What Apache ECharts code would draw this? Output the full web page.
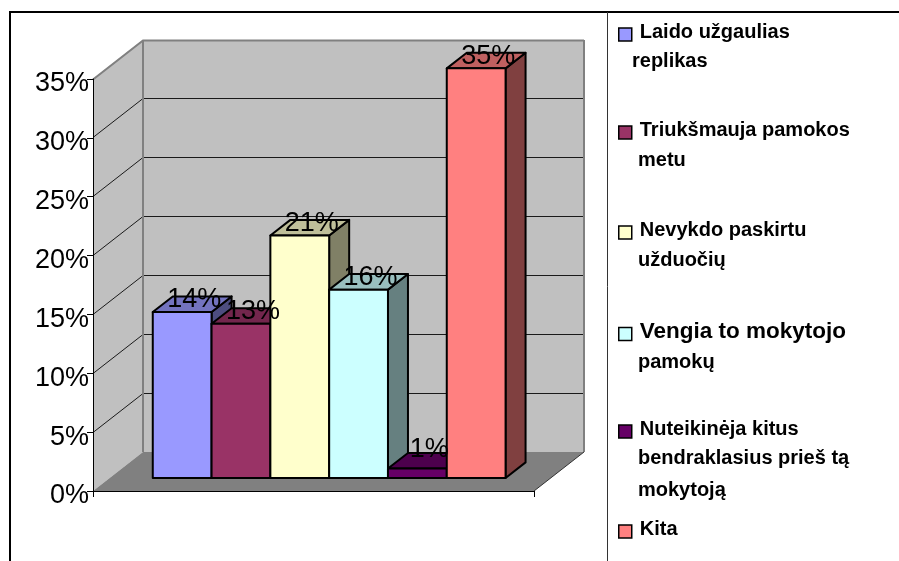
<!DOCTYPE html>
<html>
<head>
<meta charset="utf-8">
<style>
  html, body { margin: 0; padding: 0; background: #fff; }
  #chart { width: 899px; height: 561px; }
</style>
<script src="https://cdn.jsdelivr.net/npm/echarts@6/dist/echarts.min.js"></script>
</head>
<body>
<div id="chart"></div>
<script>
  var FONT = '"Liberation Sans", Arial, sans-serif';

  var categories = [''];
  var yTicks = [0, 5, 10, 15, 20, 25, 30, 35];
  var seriesNames = [
    'Laido užgaulias replikas',
    'Triukšmauja pamokos metu',
    'Nevykdo paskirtu užduočių',
    'Vengia to mokytojo pamokų',
    'Nuteikinėja kitus bendraklasius prieš tą mokytoją',
    'Kita'
  ];
  // heights, the printed labels are rounded
  var seriesValues = [14.1, 13.1, 20.6, 16, 0.8, 34.8];
  var dataLabels = ['14%', '13%', '21%', '16%', '1%', '35%'];
  var seriesColors = ['#9999FF', '#993366', '#FFFFCC', '#CCFFFF', '#660066', '#FF8080'];
  var legendLines = [
    ['Laido užgaulias', 'replikas'],
    ['Triukšmauja pamokos', 'metu'],
    ['Nevykdo paskirtu', 'užduočių'],
    ['Vengia to mokytojo', 'pamokų'],
    ['Nuteikinėja kitus', 'bendraklasius prieš tą', 'mokytoją'],
    ['Kita']
  ];

  // layout of the hand placed legend (symbol top, and y of the wrapped lines)
  var legendTops = [22, 120, 220, 320, 419, 519];
  var legendWrapY = [[61], [160], [260], [362], [458, 490], []];
  var legendWrapX = [632, 638, 638, 638, 638, 638];

  // depth of the 3d box, in pixels
  var DEPTH_X = 50;
  var DEPTH_Y = -39;

  // same hue, darker, for the top and side faces
  function shade(hex, k) {
    var c = echarts.color.parse(hex);
    return 'rgb(' + Math.round(c[0] * k) + ',' + Math.round(c[1] * k) + ',' + Math.round(c[2] * k) + ')';
  }

  function renderWalls(params, api) {
    var cs = params.coordSys;
    var top = api.coord([0, yTicks[yTicks.length - 1]])[1];
    var bottom = api.coord([0, 0])[1];
    var left = cs.x;
    var right = cs.x + cs.width;
    var children = [
      // side wall
      { type: 'polygon', shape: { points: [[left, bottom], [left, top], [left + DEPTH_X, top + DEPTH_Y], [left + DEPTH_X, bottom + DEPTH_Y]] },
        style: { fill: '#C0C0C0', stroke: null } },
      // back wall
      { type: 'rect', shape: { x: left + DEPTH_X, y: top + DEPTH_Y, width: right - left, height: bottom - top },
        style: { fill: '#C0C0C0', stroke: null } },
      // floor
      { type: 'polygon', shape: { points: [[left, bottom], [right, bottom], [right + DEPTH_X, bottom + DEPTH_Y], [left + DEPTH_X, bottom + DEPTH_Y]] },
        style: { fill: '#808080', stroke: null } }
    ];
    yTicks.forEach(function (t) {
      if (t === 0) return;
      var y = Math.floor(api.coord([0, t])[1]) + 0.5;
      var last = t === yTicks[yTicks.length - 1];
      children.push({ type: 'polyline', shape: { points: [[left, y], [left + DEPTH_X, y + DEPTH_Y], [right + DEPTH_X, y + DEPTH_Y]] },
        style: { fill: null, stroke: last ? '#808080' : '#1a1a1a', lineWidth: last ? 2 : 1 } });
    });
    children.push({ type: 'polyline', shape: { points: [[left + DEPTH_X, top + DEPTH_Y], [left + DEPTH_X, bottom + DEPTH_Y]] },
      style: { fill: null, stroke: '#808080', lineWidth: 2 } });
    children.push({ type: 'polyline', shape: { points: [[right + DEPTH_X, top + DEPTH_Y], [right + DEPTH_X, bottom + DEPTH_Y]] },
      style: { fill: null, stroke: '#808080', lineWidth: 2 } });
    children.push({ type: 'polyline', shape: { points: [[right, bottom], [right + DEPTH_X, bottom + DEPTH_Y]] },
      style: { fill: null, stroke: '#333', lineWidth: 1 } });
    return { type: 'group', children: children };
  }

  // front-left corner of bar number idx, the bar stands one third into the box
  function barGeom(params, api, idx, value) {
    var cs = params.coordSys;
    var barW = cs.width / (seriesValues.length + 1.5);
    var x = cs.x + barW * 0.75 + barW * idx + DEPTH_X / 3 - 1;
    var y0 = api.coord([0, 0])[1] + DEPTH_Y / 3;
    var y1 = api.coord([0, value])[1] + DEPTH_Y / 3;
    return { x: x, y0: y0, y1: y1, w: barW };
  }

  function renderBar(idx) {
    return function (params, api) {
      var g = barGeom(params, api, idx, api.value(1));
      var color = seriesColors[idx];
      var dx = DEPTH_X * 0.4;
      var dy = DEPTH_Y * 0.4;
      var line = { stroke: '#000', lineWidth: 2, lineJoin: 'round' };
      return { type: 'group', children: [
        { type: 'polygon', shape: { points: [[g.x + g.w, g.y0], [g.x + g.w, g.y1], [g.x + g.w + dx, g.y1 + dy], [g.x + g.w + dx, g.y0 + dy]] },
          style: Object.assign({ fill: shade(color, 0.5) }, line) },
        { type: 'polygon', shape: { points: [[g.x, g.y1], [g.x + g.w, g.y1], [g.x + g.w + dx, g.y1 + dy], [g.x + dx, g.y1 + dy]] },
          style: Object.assign({ fill: shade(color, 0.75) }, line) },
        { type: 'rect', shape: { x: g.x, y: g.y1, width: g.w, height: g.y0 - g.y1 },
          style: Object.assign({ fill: color }, line) }
      ] };
    };
  }

  function renderLabel(params, api) {
    var idx = params.dataIndex;
    var g = barGeom(params, api, idx, api.value(1));
    return { type: 'text', style: {
      text: dataLabels[idx],
      x: g.x + g.w / 2 + 12,
      y: Math.min(g.y1 - 12, g.y0 - 28),
      align: 'center',
      verticalAlign: 'middle',
      fill: '#000',
      font: '27px ' + FONT
    } };
  }

  var series = [{
    name: 'walls',
    type: 'custom',
    z: 1,
    silent: true,
    renderItem: renderWalls,
    data: [[0, 0]],
    encode: { x: 0, y: 1 }
  }];
  seriesValues.forEach(function (v, i) {
    series.push({
      name: seriesNames[i],
      type: 'custom',
      z: 3 + i * 0.01,
      itemStyle: { color: seriesColors[i] },
      renderItem: renderBar(i),
      data: [[0, v]],
      encode: { x: 0, y: 1 }
    });
  });
  series.push({
    name: 'labels',
    type: 'custom',
    z: 5,
    silent: true,
    renderItem: renderLabel,
    data: seriesValues.map(function (v) { return [0, v]; }),
    encode: { x: 0, y: 1 }
  });

  var legends = seriesNames.map(function (name, i) {
    return {
      data: [name],
      orient: 'vertical',
      left: 618,
      top: legendTops[i],
      padding: 0,
      icon: 'rect',
      itemWidth: 13,
      itemHeight: 13,
      itemStyle: { borderColor: '#000', borderWidth: 1.5 },
      selectedMode: false,
      formatter: function () { return '{a|' + legendLines[i][0] + '}'; },
      textStyle: {
        rich: {
          a: {
            fontFamily: FONT,
            fontWeight: 'bold',
            fontSize: i === 3 ? 22.5 : 20,
            color: '#000',
            padding: [0, 0, 5, 3]
          }
        }
      }
    };
  });

  var graphics = [
    { type: 'line', shape: { x1: 9, y1: 12, x2: 899, y2: 12 }, style: { stroke: '#000', lineWidth: 2 } },
    { type: 'line', shape: { x1: 10, y1: 11, x2: 10, y2: 561 }, style: { stroke: '#000', lineWidth: 2 } },
    { type: 'line', shape: { x1: 607.5, y1: 12, x2: 607.5, y2: 561 }, style: { stroke: '#333', lineWidth: 1 } }
  ];
  legendLines.forEach(function (lines, i) {
    lines.slice(1).forEach(function (text, j) {
      graphics.push({
        type: 'text',
        x: legendWrapX[i],
        y: legendWrapY[i][j],
        style: { text: text, fill: '#000', font: 'bold 20px ' + FONT, verticalAlign: 'middle' }
      });
    });
  });

  var myChart = echarts.init(document.getElementById('chart'));
  myChart.setOption({
    animation: false,
    backgroundColor: '#fff',
    grid: { left: 93, top: 79, width: 441, height: 412 },
    legend: legends,
    graphic: graphics,
    xAxis: {
      type: 'category',
      data: categories,
      z: 2,
      axisLine: { lineStyle: { color: '#000', width: 1 } },
      axisTick: { show: true, length: 6, lineStyle: { color: '#000' } },
      axisLabel: { show: false }
    },
    yAxis: {
      type: 'value',
      min: 0,
      max: 35,
      interval: 5,
      z: 2,
      axisLine: { show: true, lineStyle: { color: '#000', width: 1 } },
      axisTick: { show: true, length: 6, lineStyle: { color: '#000' } },
      splitLine: { show: false },
      axisLabel: {
        formatter: '{l|{value}%}',
        margin: 4,
        rich: { l: { fontFamily: FONT, fontSize: 27, color: '#000', padding: [10, 0, 0, 0] } }
      }
    },
    series: series
  });
</script>
</body>
</html>
